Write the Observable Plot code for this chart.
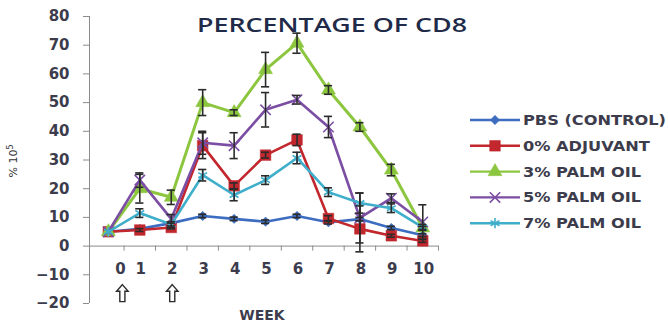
<!DOCTYPE html>
<html>
<head>
<meta charset="utf-8">
<script src="https://cdn.jsdelivr.net/npm/d3@7"></script>
<script src="https://cdn.jsdelivr.net/npm/@observablehq/plot@0.6"></script>
<style>
  html, body { margin: 0; padding: 0; background: #ffffff; }
  #wrap { position: relative; width: 668px; height: 327px; overflow: hidden; }
</style>
</head>
<body>
<div id="wrap"></div>
<script>
// ---- data ----
const weeks = [0, 1, 2, 3, 4, 5, 6, 7, 8, 9, 10];
const tickLabels = ["0", "1", "2", "3", "4", "5", "6", "7", "8", "9", "10"];
const yTicks = [-20, -10, 0, 10, 20, 30, 40, 50, 60, 70, 80];
const arrowWeeks = [0, 2];
const seriesNames = ["PBS (CONTROL)", "0% ADJUVANT", "3% PALM OIL", "5% PALM OIL", "7% PALM OIL"];

const pbs      = [5, 6, 8, 10.5, 9.5, 8.5, 10.5, 8.3, 9.4, 6.3, 3.8];
const pbsErr   = [0, 0, 0, 0.6, 0.6, 0.6, 0.6, 0.6, 0.6, 0.6, 0.5];
const adj0     = [5, 5.6, 6.5, 35, 21, 31.7, 37, 9.6, 6, 3.6, 1.8];
const adj0Err  = [0, 0.5, 0.5, 4.5, 1, 1, 2, 1, 8, 0.5, 0.5];
const palm3    = [5, 20, 17, 50, 46.5, 61.5, 70.7, 54.4, 41.5, 26.5, 6.3];
const palm3Err = [0, 5, 2.5, 4.5, 1, 6, 3.5, 1.5, 1.5, 2, 0.5];
const palm5    = [5, 23, 9.5, 36, 35, 47.5, 51, 41.5, 9.8, 16.7, 8.4];
const palm5Err = [0, 2.5, 1.5, 4, 4.5, 6, 1.5, 3.7, 8.7, 1.5, 6];
const palm7    = [5, 11.5, 7.5, 24.7, 17.8, 23, 30.7, 18.8, 15, 13.2, 6.5];
const palm7Err = [0, 1.5, 1, 2, 2, 1.5, 2, 1.5, 3.5, 1.5, 1];

// ---- styles ----
const colors  = ["#3D6DC0", "#C1272D", "#8CC63F", "#7B4EA3", "#3FAECB"];
const symbols = ["diamond2", "square", "triangle", "times", "asterisk"];
const radii   = [4.2, 6.0, 5.2, 4.8, 4.8];
const d3Symbols = [d3.symbolDiamond2, d3.symbolSquare, d3.symbolTriangle, d3.symbolTimes, d3.symbolAsterisk];
const filled  = [true, true, true, false, false];
const textColor = "#3c3c4c";
const axisColor = "#8c8c8c";
const font = "DejaVu Sans";

// hollow up-arrow symbol (as drawn under weeks 0 and 2)
const upArrow = {
  draw(ctx, size) {
    const r = Math.sqrt(size / Math.PI);
    ctx.moveTo(0, -r);
    ctx.lineTo(0.68 * r, -0.22 * r);
    ctx.lineTo(0.3 * r, -0.22 * r);
    ctx.lineTo(0.3 * r, r);
    ctx.lineTo(-0.3 * r, r);
    ctx.lineTo(-0.3 * r, -0.22 * r);
    ctx.lineTo(-0.68 * r, -0.22 * r);
    ctx.closePath();
  }
};

const values = [pbs, adj0, palm3, palm5, palm7];
const errors = [pbsErr, adj0Err, palm3Err, palm5Err, palm7Err];
const rows = seriesNames.flatMap((s, k) =>
  weeks.map((w, i) => ({series: s, k, week: w, v: values[k][i], e: errors[k][i]})));
const errRows = rows.filter(d => d.e > 0);

const xDomain = [-0.6, 10.5];
const capHalf = 0.13;

const seriesMarks = seriesNames.flatMap((s, k) => {
  const data = rows.filter(d => d.k === k);
  return [
    Plot.line(data, {x: "week", y: "v", stroke: colors[k], strokeWidth: k === 2 ? 3 : 2.6}),
    Plot.dot(data, {
      x: "week", y: "v", symbol: symbols[k], r: radii[k],
      fill: filled[k] ? colors[k] : "none", stroke: colors[k],
      strokeWidth: filled[k] ? 0.5 : 1.6
    })
  ];
});

const labelStyle = {fontSize: 15, fontWeight: "bold", fill: textColor};

const chart = Plot.plot({
  width: 668,
  height: 327,
  marginLeft: 89,
  marginRight: 230,
  marginTop: 16,
  marginBottom: 24,
  x: {domain: xDomain, axis: null, label: null},
  y: {domain: [yTicks[0], yTicks[yTicks.length - 1]], axis: null, label: null},
  style: {background: "transparent", fontFamily: font, overflow: "visible"},
  marks: [
    Plot.ruleX([xDomain[0]], {stroke: axisColor, strokeWidth: 1}),
    Plot.ruleY([0], {stroke: axisColor, strokeWidth: 1}),
    Plot.ruleX(weeks, {x: w => w + 0.5, y1: 0, y2: -1.75, stroke: axisColor}),
    Plot.axisY(yTicks, {tickSize: 6, tickPadding: 14, fontSize: 15, fontWeight: "bold", anchor: "left", label: null}),
    Plot.text(weeks.filter(w => w !== 0), {
      x: w => w, y: 0, text: w => tickLabels[weeks.indexOf(w)], dy: 23, dx: 1, ...labelStyle
    }),
    Plot.text(weeks.filter(w => w === 0), {
      x: w => w, y: 0, text: w => tickLabels[weeks.indexOf(w)], dy: 23, dx: 12, ...labelStyle
    }),
    Plot.dot(arrowWeeks.filter(w => w === 0), {
      x: w => w, y: 0, dy: 47, dx: 14, symbol: upArrow, r: 8.5,
      fill: "white", stroke: "#2a2a2a", strokeWidth: 1.4
    }),
    Plot.dot(arrowWeeks.filter(w => w !== 0), {
      x: w => w, y: 0, dy: 47, dx: 1, symbol: upArrow, r: 8.5,
      fill: "white", stroke: "#2a2a2a", strokeWidth: 1.4
    }),
    ...seriesMarks,
    Plot.ruleX(errRows, {x: "week", y1: d => d.v - d.e, y2: d => d.v + d.e, stroke: "#2b2b2b", strokeWidth: 1.6}),
    Plot.ruleY(errRows, {y: d => d.v + d.e, x1: d => d.week - capHalf, x2: d => d.week + capHalf, stroke: "#2b2b2b", strokeWidth: 1.6}),
    Plot.ruleY(errRows, {y: d => d.v - d.e, x1: d => d.week - capHalf, x2: d => d.week + capHalf, stroke: "#2b2b2b", strokeWidth: 1.6})
  ]
});

document.getElementById("wrap").appendChild(chart);
const svg = d3.select(chart);

// style y axis
svg.selectAll('g[aria-label="y-axis tick"]').attr("stroke", axisColor);
svg.selectAll('g[aria-label="y-axis tick"] path').attr("stroke", axisColor);
svg.selectAll('g[aria-label="y-axis tick label"]').attr("fill", textColor);

// title
svg.append("text")
  .attr("x", 197).attr("y", 32).attr("text-anchor", "start")
  .attr("textLength", 270).attr("lengthAdjust", "spacingAndGlyphs")
  .attr("font-family", "Open Sans").attr("font-size", 20).attr("font-weight", 600)
  .attr("fill", "#1f2b48")
  .text("PERCENTAGE OF CD8");

// x axis label
svg.append("text")
  .attr("x", 262).attr("y", 320).attr("text-anchor", "middle")
  .attr("font-family", font).attr("font-size", 14).attr("font-weight", "bold")
  .attr("fill", textColor)
  .text("WEEK");

// y axis label
const yl = svg.append("text")
  .attr("transform", "translate(17,161) rotate(-90)").attr("text-anchor", "middle")
  .attr("font-family", font).attr("font-size", 11).attr("fill", "#333");
yl.append("tspan").text("% 10");
yl.append("tspan").attr("baseline-shift", "super").attr("font-size", 8).text("5");

// legend
const lg = svg.append("g").attr("font-family", font).attr("font-size", 14)
  .attr("font-weight", "bold").attr("fill", textColor).attr("text-anchor", "start");
const legendTexts = [];
seriesNames.forEach((s, k) => {
  const y = 120 + 25.8 * k;
  const g = lg.append("g").attr("transform", `translate(0,${y})`);
  g.append("line").attr("x1", 470).attr("x2", 520).attr("y1", 0).attr("y2", 0)
    .attr("stroke", colors[k]).attr("stroke-width", 2.4);
  g.append("path")
    .attr("transform", "translate(495,0)")
    .attr("d", d3.symbol(d3Symbols[k], Math.PI * radii[k] * radii[k])())
    .attr("fill", filled[k] ? colors[k] : "none")
    .attr("stroke", colors[k]).attr("stroke-width", filled[k] ? 0.5 : 1.6);
  legendTexts.push(g.append("text").attr("x", 523).attr("y", 0).attr("dy", "0.36em").text(s));
});
// the reference's lettering is horizontally stretched: widen all legend texts by one factor
const natural = legendTexts.map(t => t.node().getComputedTextLength());
const stretch = natural[0] > 0 ? 143 / natural[0] : 1;
legendTexts.forEach((t, k) => {
  if (natural[k] > 0) t.attr("textLength", natural[k] * stretch).attr("lengthAdjust", "spacingAndGlyphs");
});
</script>
</body>
</html>
